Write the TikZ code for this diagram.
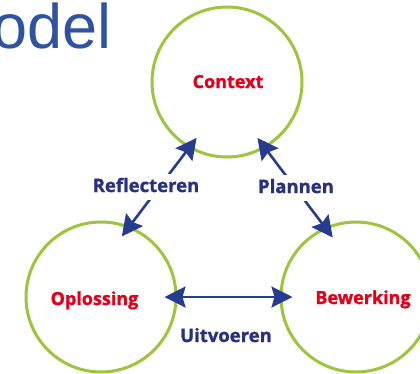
\documentclass[tikz,border=0pt]{standalone}
\usepackage{fontspec}
\setmainfont{Open Sans}[BoldFeatures={FakeBold=1.3}]
\newfontfamily\titlefont{Liberation Sans}
\usetikzlibrary{arrows.meta}
\definecolor{ringgreen}{HTML}{9DC43C}
\definecolor{lblred}{HTML}{E2001A}
\definecolor{lblnavy}{HTML}{29307F}
\definecolor{arrblue}{HTML}{253C8F}
\definecolor{titleblue}{HTML}{2E53A3}
\begin{document}
\begin{tikzpicture}[x=1pt,y=-1pt,
  ring/.style={circle,draw=ringgreen,line width=3pt,minimum size=150pt,inner sep=0pt},
  ringtext/.style={anchor=base,inner sep=0pt,text=lblred,font=\bfseries\fontsize{18}{20}\selectfont},
  arr/.style={draw=arrblue,line width=2.6pt,
    {Stealth[length=21pt,width=21pt,inset=3pt]}-{Stealth[length=21pt,width=21pt,inset=3pt]},
    shorten <=-13pt,shorten >=-13pt},
  lbl/.style={fill=white,text=lblnavy,font=\bfseries\fontsize{18.5}{20}\selectfont,
    inner xsep=2pt,inner ysep=4pt,text depth=4pt,anchor=base}]
\useasboundingbox (0,0) rectangle (420,373);
\clip (0,0) rectangle (420,373);
\node[anchor=base west,inner sep=0pt,text=titleblue,font=\titlefont\fontsize{63}{70}\selectfont] (title) at (-8,48) {odel};
\node[ring] (ctx) at (227,82) {};
\node[ring] (opl) at (101,297) {};
\node[ring] (bew) at (356,297) {};
\node[ringtext] (ctxT) at (228,88) {Context};
\node[ringtext] (oplT) at (94.5,305) {Oplossing};
\node[ringtext] (bewT) at (363,304) {Bewerking};
\draw[arr] (opl.68) -- (ctx.240);
\draw[arr] (ctx.300) -- (bew.114);
\draw[arr] (opl.east) -- (bew.west);
\node[lbl] (refl) at (146,192) {Reflecteren};
\node[lbl] (plan) at (296,193) {Plannen};
\node[lbl,fill=none] (uitv) at (226,342) {Uitvoeren};
\end{tikzpicture}
\end{document}
